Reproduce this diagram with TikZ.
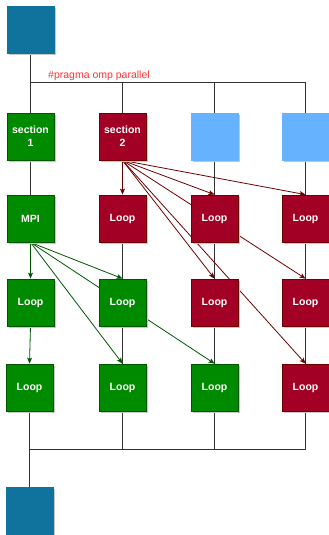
\documentclass[tikz,border=0pt]{standalone}
\usepackage{fontspec}
\setmainfont{Liberation Sans}
\usetikzlibrary{arrows.meta,shadows,backgrounds}
\definecolor{dblue}{HTML}{10739E}
\definecolor{lblue}{HTML}{66B2FF}
\definecolor{gfill}{HTML}{008A00}
\definecolor{gline}{HTML}{005700}
\definecolor{rfill}{HTML}{A20025}
\definecolor{rline}{HTML}{6F0000}
\definecolor{prag}{HTML}{FF3333}
\begin{document}
\begin{tikzpicture}[x=1pt,y=-1pt,
  box/.style={minimum width=47pt, minimum height=47pt, inner sep=0pt, line width=0.8pt,
    font=\fontsize{10.5}{13}\selectfont\bfseries, text=white, align=center,
    drop shadow={shadow xshift=2pt, shadow yshift=-2pt, fill=black!22, opacity=1}},
  bbox/.style={box, fill=dblue, draw=dblue},
  lbox/.style={box, fill=lblue, draw=lblue},
  gbox/.style={box, fill=gfill, draw=gline},
  rbox/.style={box, fill=rfill, draw=rline},
  plain/.style={draw=black!80, line width=0.8pt},
  tip/.style={-{Stealth[length=6pt,width=5pt,inset=1.5pt]}},
  rarr/.style={draw=rline, line width=0.8pt, tip},
  garr/.style={draw=gline, line width=0.8pt, tip}]
\useasboundingbox (0,0) rectangle (329,535);

% nodes
\node[bbox] (top) at (30.5,29.5) {};
\node[gbox] (s1) at (30.5,136.5) {section\\1};
\node[rbox] (s2) at (122.5,136.5) {section\\2};
\node[lbox] (s3) at (214.5,136.5) {};
\node[lbox] (s4) at (305.5,136.5) {};

\node[gbox] (a1) at (30.5,218.5) {MPI};
\node[rbox] (a2) at (122.5,218.5) {Loop};
\node[rbox] (a3) at (214.5,218.5) {Loop};
\node[rbox] (a4) at (305.5,218.5) {Loop};

\node[gbox] (b1) at (30.5,302.5) {Loop};
\node[gbox] (b2) at (122.5,302.5) {Loop};
\node[rbox] (b3) at (214.5,302.5) {Loop};
\node[rbox] (b4) at (305.5,302.5) {Loop};

\node[gbox] (c1) at (29.5,387.5) {Loop};
\node[gbox] (c2) at (122.5,387.5) {Loop};
\node[gbox] (c3) at (214.5,387.5) {Loop};
\node[rbox] (c4) at (305.5,387.5) {Loop};

\node[bbox] (bot) at (29.5,510.5) {};

\node[text=prag, font=\fontsize{10.5}{12}\selectfont, inner sep=0pt] (prag) at (99,76) {\#pragma omp parallel};

\coordinate (busT) at (0,82.7);
\coordinate (busB) at (0,449);

\begin{scope}[on background layer]
% fork
\draw[plain] (top.south) -- (top.south |- busT) -| (s4.north);
\draw[plain] (s1.north) -- (s1.north |- busT);
\draw[plain] (s2.north) -- (s2.north |- busT);
\draw[plain] (s3.north) -- (s3.north |- busT);
% verticals
\draw[plain] (s1.south) -- (a1.north);
\draw[plain] (s3.south) -- (a3.north);
\draw[plain] (s4.south) -- (a4.north);
\draw[plain] (a2.south) -- (b2.north);
\draw[plain] (a3.south) -- (b3.north);
\draw[plain] (a4.south) -- (b4.north);
\draw[plain] (b2.south) -- (c2.north);
\draw[plain] (b3.south) -- (c3.north);
\draw[plain] (b4.south) -- (c4.north);
% join
\draw[plain] (c1.south) -- (c1.south |- busB) -| (c4.south);
\draw[plain] (c2.south) -- (c2.south |- busB);
\draw[plain] (c3.south) -- (c3.south |- busB);
\draw[plain] (c1.south |- busB) -- (bot.north);
% red arrows
\draw[rarr] (s2.south) -- (a2.north);
\draw[rarr] (s2.south) -- (a3.north);
\draw[rarr] (s2.south) -- (a4.north);
\draw[rarr] (s2.south) -- (b3.north);
\draw[rarr] (s2.south) -- (b4.north);
\draw[rarr] (s2.south) -- (c4.north);
% green arrows
\draw[garr] (a1.south) -- (b1.north);
\draw[garr] (a1.south) -- (b2.north);
\draw[garr] (a1.south) -- (c2.north);
\draw[garr] (a1.south) -- (c3.north);
\draw[garr] (b1.south) -- (c1.north);
\end{scope}
\end{tikzpicture}
\end{document}
